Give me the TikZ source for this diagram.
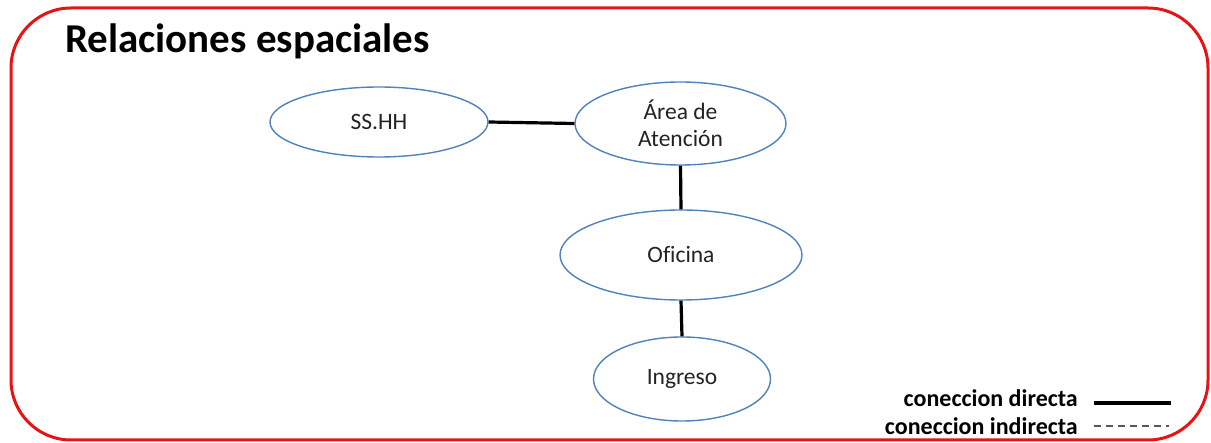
\documentclass[tikz,border=0pt]{standalone}
\usepackage{fontspec}
\setmainfont{Carlito}[Ligatures=NoCommon]
\usetikzlibrary{shapes.geometric}
\definecolor{frame}{RGB}{230,20,20}
\definecolor{ellblue}{RGB}{80,130,190}
\definecolor{txt}{RGB}{35,35,35}
\tikzset{
  room/.style={ellipse, draw=ellblue, line width=1.4pt, fill=white, inner sep=0pt,
    font=\fontsize{23.5}{27}\selectfont, text=txt, align=center},
  link/.style={line width=3.2pt, black},
  legendtxt/.style={font=\bfseries\fontsize{24}{28}\selectfont, text=black, anchor=base east, inner sep=0pt},
}
\begin{document}
\begin{tikzpicture}[x=1pt,y=-1pt]
\useasboundingbox (0,0) rectangle (1211,443);
\fill[white] (0,0) rectangle (1211,443);
\draw[frame, line width=3pt, rounded corners=60pt] (11,8) rectangle (1208,440);
\node[anchor=base west, inner sep=0pt, font=\bfseries\fontsize{41}{48}\selectfont] (title) at (65,53) {Relaciones espaciales};

\node[room, minimum width=218pt, minimum height=70pt] (ss) at (379,122) {SS.HH};
\node[room, minimum width=211pt, minimum height=83pt] (area) at (680.5,123.5) {Área de\\Atención};
\node[room, minimum width=242pt, minimum height=90pt] (ofi) at (681,255) {Oficina};
\node[room, minimum width=177pt, minimum height=84pt] (ing) at (682,379) {Ingreso};

\draw[link] (ss.east) -- (area.west);
\draw[link] (area.south) -- (ofi.north);
\draw[link] (ofi.south) -- (ing.north);

\node[legendtxt] (ld) at (1078,407) {coneccion directa};
\node[legendtxt] (li) at (1078,435) {coneccion indirecta};
\coordinate (ds) at (1094,403);
\coordinate (de) at (1171,403);
\coordinate (is) at (1094,426);
\coordinate (ie) at (1169,426);
\draw[link] (ds) -- (de);
\draw[line width=1.4pt, black!65, dash pattern=on 7pt off 5pt] (is) -- (ie);
\end{tikzpicture}
\end{document}
